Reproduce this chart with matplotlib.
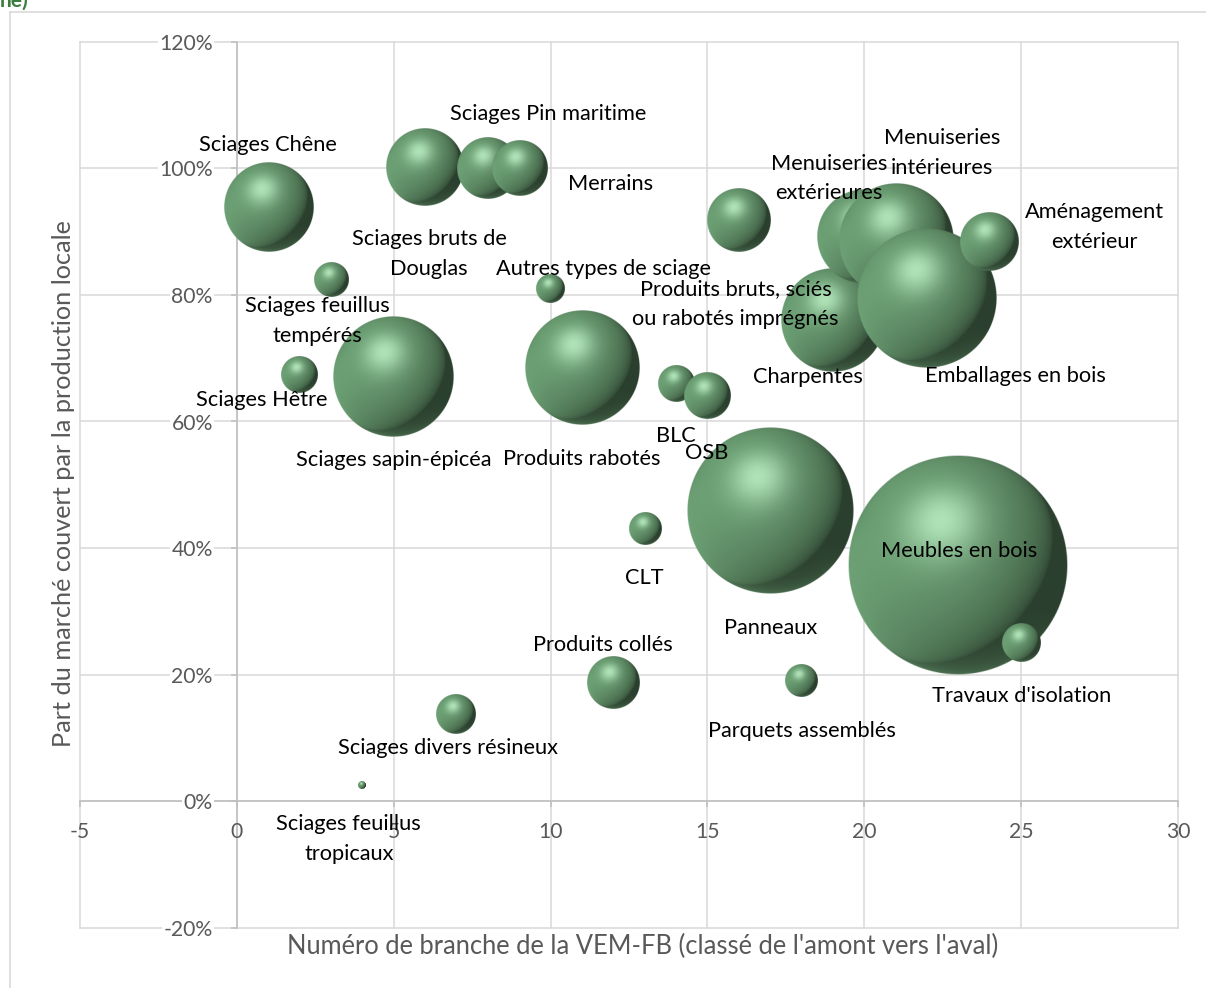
import numpy as np
import matplotlib
matplotlib.use("Agg")
import matplotlib.pyplot as plt
from matplotlib.lines import Line2D
from matplotlib.ticker import FuncFormatter

plt.rcParams["font.family"] = ["Lato", "DejaVu Sans"]

# --- data ---------------------------------------------------------------
branches = [1, 2, 3, 4, 5, 6, 7, 8, 9, 10, 11, 12, 13, 14, 15, 16, 17, 18,
            19, 20, 21, 22, 23, 24, 25]
local_share = [0.939, 0.675, 0.824, 0.025, 0.671, 1.002, 0.138, 1.000, 1.000,
               0.809, 0.684, 0.187, 0.430, 0.660, 0.640, 0.918, 0.459, 0.190,
               0.760, 0.892, 0.886, 0.795, 0.373, 0.884, 0.250]
market_size = [20.0, 3.4, 3.0, 0.16, 36.6, 15.2, 4.0, 9.6, 7.6,
               2.0, 32.5, 6.8, 2.6, 3.3, 5.3, 10.2, 68.9, 2.6,
               26.7, 22.1, 32.5, 49.0, 121.0, 8.7, 3.7]
names = ["Sciages Chêne", "Sciages Hêtre", "Sciages feuillus\ntempérés",
         "Sciages feuillus\ntropicaux", "Sciages sapin-épicéa",
         "Sciages bruts de\nDouglas", "Sciages divers résineux",
         "Sciages Pin maritime", "Merrains", "Autres types de sciage",
         "Produits rabotés", "Produits collés", "CLT", "BLC", "OSB",
         "Produits bruts, sciés\nou rabotés imprégnés", "Panneaux",
         "Parquets assemblés", "Charpentes", "Menuiseries\nextérieures",
         "Menuiseries\nintérieures", "Emballages en bois", "Meubles en bois",
         "Aménagement\nextérieur", "Travaux d'isolation"]

x_ticks = [-5, 0, 5, 10, 15, 20, 25, 30]
y_ticks = [-0.2, 0.0, 0.2, 0.4, 0.6, 0.8, 1.0, 1.2]

x_title = "Numéro de branche de la VEM-FB (classé de l'amont vers l'aval)"
y_title = "Part du marché couvert par la production locale"

# label placement relative to each bubble centre (points)
label_offsets = [(0, 44.6), (-27.4, -18.7), (-9.7, -29.9), (-9.7, -38.9),
                 (0, -59.8), (2.9, -62.6), (-5.8, -24.5), (43.6, 38.9),
                 (65.5, -11.2), (37.9, 14.9), (0, -65.5), (-7.6, 27.4),
                 (0, -35.6), (0, -37.9), (-0.7, -40.8), (-2.2, -60.5),
                 (0, -84.2), (0, -36.0), (-18.3, -40.8), (-25.5, 42.0),
                 (33.6, 63.4), (63.4, -56.4), (0.6, 10.1), (75.5, 10.6),
                 (0, -38.4)]

# --- styling ------------------------------------------------------------
W, H, DPI = 1206, 988, 100
GRID = "#d9d9d9"
AXIS = "#bfbfbf"
TICK_TXT = "#595959"
LABEL_SIZE = 15.7
RADIUS_PT_PER_SQRT = 7.2          # bubble radius (points) per sqrt(size)

fig = plt.figure(figsize=(W / DPI, H / DPI), dpi=DPI)
ax = fig.add_axes([80 / W, 1 - 927.5 / H, (1178 - 80) / W, (927.5 - 42) / H])
ax.set_autoscale_on(False)
ax.set_xlim(x_ticks[0], x_ticks[-1])
ax.set_ylim(y_ticks[0], y_ticks[-1])

for s in ("top", "right"):
    ax.spines[s].set_visible(False)
ax.spines["left"].set_position(("data", 0))
ax.spines["bottom"].set_position(("data", 0))
for s in ("left", "bottom"):
    ax.spines[s].set_color(AXIS)
    ax.spines[s].set_linewidth(1.1)
    ax.spines[s].set_zorder(1)

for xv in x_ticks:
    ax.axvline(xv, color=GRID, lw=1.1, zorder=0, clip_on=False)
for yv in y_ticks:
    ax.axhline(yv, color=GRID, lw=1.1, zorder=0, clip_on=False)

ax.set_xticks(x_ticks)
ax.set_yticks(y_ticks)
ax.xaxis.set_major_formatter(FuncFormatter(lambda v, p: f"{v:g}"))
ax.yaxis.set_major_formatter(FuncFormatter(lambda v, p: f"{v * 100:.0f}%"))
ax.tick_params(axis="both", direction="out", length=4.3, width=1.1,
               color=AXIS, labelcolor=TICK_TXT, labelsize=15.2)
ax.tick_params(axis="y", pad=13)
ax.tick_params(axis="x", pad=11)
for lbl in ax.get_yticklabels():
    lbl.set_bbox(dict(facecolor="white", edgecolor="none", pad=1.0))


def sphere_rgba(n=321):
    t = np.linspace(-1, 1, n)
    u, v = np.meshgrid(t, t)
    rr = np.sqrt(u ** 2 + v ** 2)
    nz = np.sqrt(np.clip(1 - rr ** 2, 0, None))
    L = np.array([-0.5, 0.45, 0.74]); L /= np.linalg.norm(L)
    Hh = np.array([-0.14, 0.40, 0.90]); Hh /= np.linalg.norm(Hh)
    R = np.array([-0.45, -0.89]); R /= np.linalg.norm(R)
    diff = np.clip(u * L[0] + v * L[1] + nz * L[2], 0, 1)
    spec = np.clip(u * Hh[0] + v * Hh[1] + nz * Hh[2], 0, 1) ** 16
    rim = (1 - nz) ** 1.5 * np.clip(u * R[0] + v * R[1], 0, 1)
    base = np.array([0.42, 0.62, 0.45])
    shade = 0.40 + 0.62 * diff ** 0.55 + 0.40 * rim
    rgb = base[None, None, :] * shade[..., None] + 0.27 * spec[..., None]
    rgb = np.clip(rgb, 0, 1)
    alpha = np.clip((1 - rr) * n / 2, 0, 1)
    return np.dstack([rgb, alpha])


ball = sphere_rgba()
inv = ax.transData.inverted()
px_per_pt = DPI / 72.0
order = np.argsort(branches, kind="stable")
for k, i in enumerate(order):
    cx, cy = ax.transData.transform((branches[i], local_share[i]))
    r = RADIUS_PT_PER_SQRT * np.sqrt(market_size[i]) * px_per_pt
    x0, y0 = inv.transform((cx - r, cy - r))
    x1, y1 = inv.transform((cx + r, cy + r))
    ax.imshow(ball, extent=(x0, x1, y0, y1), origin="lower", aspect="auto",
              interpolation="antialiased", zorder=2 + k * 0.01)

for i, name in enumerate(names):
    ax.annotate(name, (branches[i], local_share[i]), xytext=label_offsets[i],
                textcoords="offset points", ha="center", va="center",
                fontsize=LABEL_SIZE, color="black", linespacing=1.62, zorder=5)

ax.set_xlim(x_ticks[0], x_ticks[-1])
ax.set_ylim(y_ticks[0], y_ticks[-1])

fig.text(643 / W, 1 - 946 / H, x_title, ha="center", va="center",
         fontsize=18.4, color=TICK_TXT)
fig.text(64 / W, 1 - 484 / H, y_title, ha="center", va="center",
         rotation=90, fontsize=18.2, color=TICK_TXT)

# outer frame and clipped caption fragment
fig.add_artist(Line2D([10 / W, 10 / W], [0, 1 - 12 / H], color=GRID, lw=1.2))
fig.add_artist(Line2D([10 / W, 1], [1 - 12 / H, 1 - 12 / H], color=GRID, lw=1.2))
fig.text(0.0, 1 - 7 / H, "ne)", ha="left", va="baseline", fontsize=15,
         fontweight="bold", color="#3b7d3f")

fig.savefig("out.png", dpi=DPI)
